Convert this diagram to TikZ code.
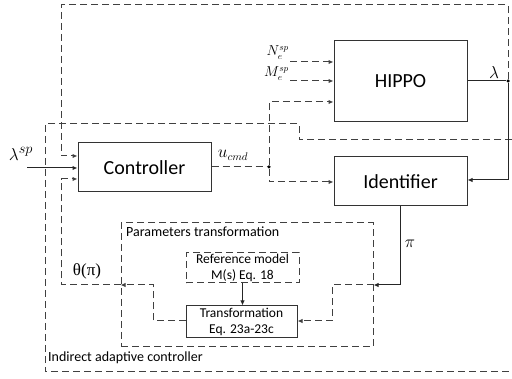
\documentclass[tikz,border=0pt]{standalone}
\usepackage{fontspec}
\setmainfont{Carlito}
\newfontfamily\grkfont{Liberation Serif}
\usetikzlibrary{arrows.meta,calc}
\begin{document}
\begin{tikzpicture}[x=1pt,y=-1pt,
  blk/.style={draw=black!80, line width=1pt, inner sep=0pt, align=center, font=\fontsize{20}{24}\selectfont},
  sblk/.style={draw=black!80, line width=1pt, inner sep=0pt, align=center, font=\fontsize{13.5}{16.5}\selectfont},
  dsh/.style={draw=black!75, line width=1pt, dash pattern=on 7pt off 4pt},
  sol/.style={draw=black!85, line width=1pt},
  arr/.style={-{Latex[length=5pt,width=4.5pt]}},
  lbl/.style={font=\fontsize{14}{16}\selectfont, inner sep=0pt},
  mlbl/.style={font=\fontsize{16}{18}\selectfont, inner sep=0pt},
  slbl/.style={font=\fontsize{13.5}{15}\selectfont, inner sep=0pt},
  dot/.style={circle, fill=black, inner sep=0pt, minimum size=3.5pt}]
\useasboundingbox (0,0) rectangle (512,379);
% outer box
\draw[dsh] (512,140) -- (299,140) -- (299,124) -- (45,124) -- (45,372) -- (512,372);
% blocks
\node[blk, minimum width=133pt, minimum height=49pt] (ctrl) at (144.5,167.5) {Controller};
\node[blk, minimum width=133pt, minimum height=81pt] (hippo) at (400.5,81.5) {HIPPO};
\node[blk, minimum width=133pt, minimum height=49pt] (ident) at (400.5,181.5) {Identifier};
\node[dsh, minimum width=252pt, minimum height=124pt, inner sep=0pt] (param) at (247,285) {};
\node[sblk, dsh, minimum width=113pt, minimum height=30pt] (ref) at (242.5,268) {Reference model\\M(s) Eq. 18};
\node[sblk, minimum width=111pt, minimum height=32pt] (trans) at (241.5,322) {Transformation\\Eq. 23a-23c};
% junctions
\node[dot] (d1) at (269,167) {};
\node[dot] (d2) at (508,81) {};
\coordinate (lsp) at (27,168);
% labels
\node[lbl, anchor=west] (ptl) at (126,232) {Parameters transformation};
\node[lbl, anchor=west] (iac) at (48,358) {Indirect adaptive controller};
\node[font=\fontsize{19}{21}\selectfont, inner sep=0pt] (lspl) at (21,154) {$\lambda^{sp}$};
\node[mlbl] (ucl) at (233,155) {$u_{cmd}$};
\node[mlbl] (lam) at (494,73) {$\lambda$};
\node[mlbl] (pil) at (410,244) {$\pi$};
\node[font=\grkfont\fontsize{17}{19}\selectfont, inner sep=0pt] (thl) at (87,271) {θ(π)};
\node[slbl, anchor=east] (nel) at (289,52.5) {$N_e^{sp}$};
\node[slbl, anchor=east] (mel) at (289,73.5) {$M_e^{sp}$};
\coordinate (ne) at (290,62);
\coordinate (me) at (290,81);
% connectors
\draw[dsh,arr] (d2) -- (508,5) -- (61,5) -- (61,156) -- (ctrl.west |- 0,156);
\draw[sol,arr] (lsp) -- (ctrl.west |- lsp);
\draw[dsh,arr] (param.west |- 0,285) -- (61,285) -- (61,179) -- (ctrl.west |- 0,179);
\draw[dsh] (ctrl.east |- d1) -- (d1);
\draw[dsh,arr] (d1) -- (269,102) -- (hippo.west |- 0,102);
\draw[dsh,arr] (d1) -- (269,182) -- (ident.west |- 0,182);
\draw[dsh,arr] (ne) -- (hippo.west |- ne);
\draw[dsh,arr] (me) -- (hippo.west |- me);
\draw[sol] (hippo.east |- d2) -- (d2);
\draw[sol,arr] (d2) -- (508,180) -- (ident.east |- 0,180);
\draw[sol,arr] (ident.south) -- (400.5,285) -- (param.east |- 0,285);
\draw[dsh,arr] (param.east |- 0,285) -- (332,285) -- (332,321) -- (trans.east |- 0,321);
\draw[sol,arr] (ref.south) -- (ref.south |- trans.north);
\draw[dsh,arr] (trans.west |- 0,321) -- (153,321) -- (153,285) -- (param.west |- 0,285);
\end{tikzpicture}
\end{document}
